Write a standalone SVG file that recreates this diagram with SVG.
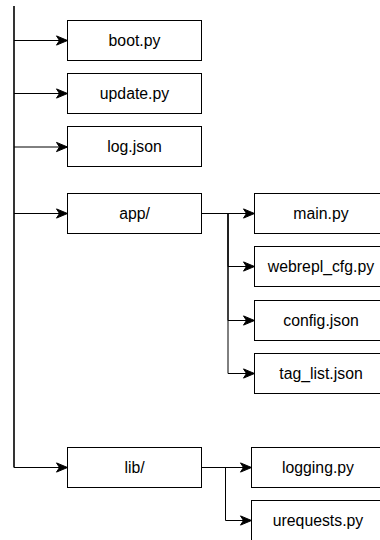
<svg xmlns="http://www.w3.org/2000/svg" width="380" height="540" viewBox="0 0 380 540">
  <style>
    .box { fill: #ffffff; stroke: #000000; stroke-width: 1; }
    .label { font-family: "Liberation Sans", Arial, Helvetica, sans-serif; font-size: 15.8px; fill: #000000; text-anchor: middle; dominant-baseline: central; }
    .wire { fill: none; stroke: #000000; stroke-width: 1; }
    .trunk { fill: none; stroke: #000000; stroke-width: 1.6; }
  </style>
  <defs>
    <marker id="arrow" markerUnits="userSpaceOnUse" markerWidth="14" markerHeight="12" viewBox="-12 -6 14 12" refX="0" refY="0" orient="auto" overflow="visible">
      <path d="M0,0 L-11,-4.6 L-8,0 L-11,4.6 Z" fill="#000000" stroke="#000000" stroke-width="1" stroke-linejoin="miter"/>
    </marker>
  </defs>
  <rect width="380" height="540" fill="#ffffff"/>

  <!-- connectors -->
  <g id="connectors">
    <!-- root trunk, ending in the lib/ branch -->
    <path class="trunk" d="M14,6 L14,467.5"/>
    <path class="wire" d="M14,467.5 L67.5,467.5" marker-end="url(#arrow)"/>
    <path class="wire" d="M14,40.5 L67.5,40.5" marker-end="url(#arrow)"/>
    <path class="wire" d="M14,93.5 L67.5,93.5" marker-end="url(#arrow)"/>
    <path class="wire" d="M14,147 L67.5,147" marker-end="url(#arrow)"/>
    <path class="wire" d="M14,213.5 L67.5,213.5" marker-end="url(#arrow)"/>
    <!-- app/ children -->
    <path class="wire" d="M201.5,213.5 L254.5,213.5" marker-end="url(#arrow)"/>
    <path class="wire" d="M201.5,213.5 L228,213.5 L228,266.5 L254.5,266.5" marker-end="url(#arrow)"/>
    <path class="wire" d="M201.5,213.5 L228,213.5 L228,320.5 L254.5,320.5" marker-end="url(#arrow)"/>
    <path class="wire" d="M201.5,213.5 L228,213.5 L228,373.5 L254.5,373.5" marker-end="url(#arrow)"/>
    <!-- lib/ children -->
    <path class="wire" d="M201.5,467.5 L251.5,467.5" marker-end="url(#arrow)"/>
    <path class="wire" d="M201.5,467.5 L225.5,467.5 L225.5,520.5 L251.5,520.5" marker-end="url(#arrow)"/>
  </g>

  <!-- top-level files -->
  <g id="boot-py">
    <rect class="box" x="67.5" y="20.5" width="134" height="40"/>
    <text class="label" x="134.5" y="40.5">boot.py</text>
  </g>
  <g id="update-py">
    <rect class="box" x="67.5" y="73.5" width="134" height="40"/>
    <text class="label" x="134.5" y="93.5">update.py</text>
  </g>
  <g id="log-json">
    <rect class="box" x="67.5" y="126.5" width="134" height="40"/>
    <text class="label" x="134.5" y="146.5">log.json</text>
  </g>
  <g id="app-dir">
    <rect class="box" x="67.5" y="193.5" width="134" height="40"/>
    <text class="label" x="134.5" y="213.5">app/</text>
  </g>
  <g id="lib-dir">
    <rect class="box" x="67.5" y="447.5" width="134" height="40"/>
    <text class="label" x="134.5" y="467.5">lib/</text>
  </g>

  <!-- app/ contents -->
  <g id="main-py">
    <rect class="box" x="254.5" y="193.5" width="134" height="40"/>
    <text class="label" x="321" y="213.5">main.py</text>
  </g>
  <g id="webrepl-cfg-py">
    <rect class="box" x="254.5" y="246.5" width="134" height="40"/>
    <text class="label" x="321" y="266.5">webrepl_cfg.py</text>
  </g>
  <g id="config-json">
    <rect class="box" x="254.5" y="300.5" width="134" height="40"/>
    <text class="label" x="321" y="320.5">config.json</text>
  </g>
  <g id="tag-list-json">
    <rect class="box" x="254.5" y="353.5" width="134" height="40"/>
    <text class="label" x="321" y="373.5">tag_list.json</text>
  </g>

  <!-- lib/ contents -->
  <g id="logging-py">
    <rect class="box" x="251.5" y="447.5" width="134" height="40"/>
    <text class="label" x="318" y="467.5">logging.py</text>
  </g>
  <g id="urequests-py">
    <rect class="box" x="251.5" y="500.5" width="134" height="40"/>
    <text class="label" x="318" y="520.5">urequests.py</text>
  </g>
</svg>
